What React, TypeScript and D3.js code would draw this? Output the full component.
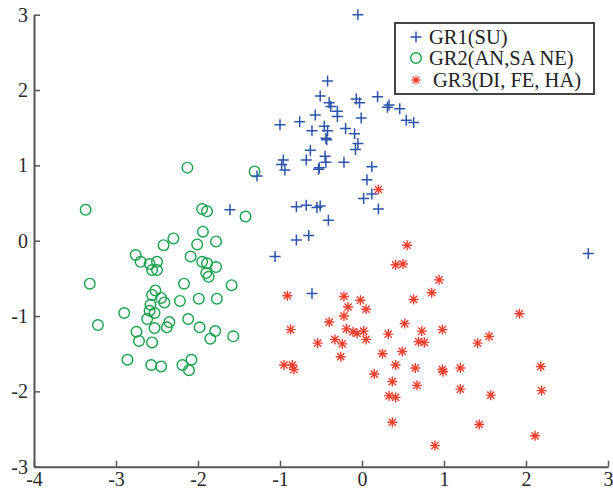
import React, { useEffect, useRef } from "react";
import * as d3 from "d3";

// GR1(SU)
const gr1: [number, number][] = [
  [-0.05, 3.0], [-0.42, 2.12], [-0.51, 1.92], [-0.4, 1.83], [-0.38, 1.78], [-0.3, 1.72],
  [-0.3, 1.65], [-0.07, 1.88], [-0.03, 1.83], [0.19, 1.91], [0.33, 1.8], [0.31, 1.77],
  [0.46, 1.75], [0.54, 1.6], [0.63, 1.57], [-0.01, 1.63], [-0.57, 1.67], [-0.76, 1.58],
  [-1.0, 1.54], [-0.61, 1.46], [-0.46, 1.52], [-0.42, 1.46], [-0.44, 1.36], [-0.43, 1.34],
  [-0.2, 1.49], [-0.09, 1.42], [-0.05, 1.29], [-0.08, 1.21], [-0.63, 1.2], [-0.68, 1.07],
  [-0.45, 1.12], [-0.44, 1.04], [-0.52, 0.97], [-0.53, 0.95], [-0.22, 1.04], [-0.96, 1.07],
  [-0.98, 1.01], [-0.94, 0.94], [0.12, 0.98], [0.06, 0.81], [0.02, 0.56], [0.12, 0.62],
  [0.2, 0.42], [-0.8, 0.45], [-0.68, 0.47], [-0.55, 0.44], [-0.51, 0.46], [-0.41, 0.27],
  [-0.8, 0.01], [-0.65, 0.07], [-1.28, 0.86], [-1.61, 0.41], [-1.06, -0.21], [-0.61, -0.7],
  [2.76, -0.17],
];

// GR2(AN,SA NE)
const gr2: [number, number][] = [
  [-2.13, 0.97], [-1.31, 0.92], [-3.37, 0.41], [-1.95, 0.42], [-1.89, 0.39], [-1.42, 0.32],
  [-1.94, 0.12], [-1.78, -0.01], [-2.3, 0.03], [-2.42, -0.06], [-2.01, -0.05], [-2.76, -0.19],
  [-2.7, -0.28], [-2.59, -0.31], [-2.5, -0.28], [-2.56, -0.39], [-2.5, -0.39], [-2.09, -0.21],
  [-1.95, -0.28], [-1.89, -0.3], [-1.78, -0.35], [-1.9, -0.43], [-1.87, -0.48], [-3.32, -0.57],
  [-2.17, -0.57], [-1.59, -0.59], [-2.52, -0.66], [-2.56, -0.72], [-2.45, -0.76], [-2.41, -0.82],
  [-2.22, -0.8], [-1.99, -0.77], [-1.77, -0.77], [-2.58, -0.85], [-2.59, -0.93], [-2.53, -0.96],
  [-2.9, -0.96], [-2.62, -1.04], [-3.22, -1.12], [-2.35, -1.08], [-2.38, -1.15], [-2.53, -1.16],
  [-2.12, -1.04], [-1.98, -1.15], [-1.79, -1.2], [-1.85, -1.3], [-1.57, -1.27], [-2.75, -1.21],
  [-2.72, -1.33], [-2.56, -1.35], [-2.86, -1.58], [-2.57, -1.65], [-2.45, -1.67], [-2.19, -1.65],
  [-2.08, -1.58], [-2.11, -1.72],
];

// GR3(DI, FE, HA)
const gr3: [number, number][] = [
  [0.2, 0.68], [0.55, -0.06], [0.41, -0.32], [0.5, -0.31], [0.94, -0.52], [0.85, -0.69],
  [0.63, -0.78], [-0.91, -0.73], [-0.22, -0.74], [-0.02, -0.79], [-0.17, -0.88], [0.05, -0.91],
  [-0.22, -1.0], [-0.4, -1.08], [-0.87, -1.18], [0.52, -1.1], [0.73, -1.2], [0.98, -1.18],
  [-0.19, -1.17], [-0.11, -1.21], [-0.06, -1.23], [0.02, -1.2], [0.05, -1.31], [-0.33, -1.31],
  [-0.24, -1.37], [-0.54, -1.36], [0.32, -1.24], [0.69, -1.34], [0.76, -1.35], [-0.26, -1.54],
  [0.25, -1.5], [0.49, -1.47], [-0.95, -1.65], [-0.85, -1.65], [-0.83, -1.71], [0.41, -1.65],
  [0.65, -1.69], [0.98, -1.71], [0.99, -1.74], [1.2, -1.69], [0.15, -1.77], [0.37, -1.87],
  [0.67, -1.92], [1.2, -1.97], [0.33, -2.06], [0.41, -2.08], [0.37, -2.41], [0.89, -2.72],
  [1.41, -1.36], [1.55, -1.27], [2.18, -1.67], [1.57, -2.05], [2.19, -1.99], [1.43, -2.44],
  [2.11, -2.59], [1.92, -0.97],
];

const xTicks = [-4, -3, -2, -1, 0, 1, 2, 3];
const yTicks = [-3, -2, -1, 0, 1, 2, 3];
const legendLabels = ["GR1(SU)", "GR2(AN,SA NE)", "GR3(DI, FE, HA)"];

const blue = "#2c54aa";
const green = "#17a04a";
const red = "#f0412f";

const width = 613;
const height = 491;

function plusPath(s: number) {
  return `M${-s},0H${s}M0,${-s}V${s}`;
}
function starPath(s: number) {
  const d = s * 0.72;
  return `M${-s},0H${s}M0,${-s}V${s}M${-d},${-d}L${d},${d}M${-d},${d}L${d},${-d}`;
}

export default function App() {
  const ref = useRef<SVGSVGElement>(null);

  useEffect(() => {
    const svg = d3.select(ref.current);
    svg.selectAll("*").remove();

    const x = d3.scaleLinear().domain([-4, 3]).range([34, 608]);
    const y = d3.scaleLinear().domain([-3, 3]).range([466.7, 14.7]);
    const font = "'Liberation Serif', 'Times New Roman', serif";

    // axes
    const xAxis = svg.append("g")
      .attr("transform", `translate(0,${y(-3)})`)
      .call(d3.axisBottom(x).tickValues(xTicks).tickSize(-6).tickPadding(5).tickSizeOuter(0)
        .tickFormat((d) => String(d)));
    const yAxis = svg.append("g")
      .attr("transform", `translate(${x(-4)},0)`)
      .call(d3.axisLeft(y).tickValues(yTicks).tickSize(-6).tickPadding(6).tickSizeOuter(0)
        .tickFormat((d) => String(d)));
    [xAxis, yAxis].forEach((g) => {
      g.select(".domain").attr("stroke", "#555").attr("stroke-width", 2);
      g.selectAll(".tick line").attr("stroke", "#555").attr("stroke-width", 1.5);
      g.selectAll(".tick text")
        .attr("fill", "#2a2a2a")
        .attr("font-family", font)
        .attr("font-size", 20);
    });
    xAxis.selectAll(".tick text").attr("dy", "0.7em");

    // points
    const g = svg.append("g");
    g.selectAll(".gr2")
      .data(gr2)
      .enter().append("circle")
      .attr("cx", (d) => x(d[0]))
      .attr("cy", (d) => y(d[1]))
      .attr("r", 5.3)
      .attr("fill", "none")
      .attr("stroke", green)
      .attr("stroke-width", 1.4);
    g.selectAll(".gr1")
      .data(gr1)
      .enter().append("path")
      .attr("transform", (d) => `translate(${x(d[0])},${y(d[1])})`)
      .attr("d", plusPath(5.5))
      .attr("fill", "none")
      .attr("stroke", blue)
      .attr("stroke-width", 1.5);
    g.selectAll(".gr3")
      .data(gr3)
      .enter().append("path")
      .attr("transform", (d) => `translate(${x(d[0])},${y(d[1])})`)
      .attr("d", starPath(5))
      .attr("fill", "none")
      .attr("stroke", red)
      .attr("stroke-width", 1.4);

    // legend
    const lg = svg.append("g");
    lg.append("rect")
      .attr("x", 395).attr("y", 23).attr("width", 199).attr("height", 71)
      .attr("fill", "#fff").attr("stroke", "#444").attr("stroke-width", 2);
    const rows = [37, 58, 80];
    lg.append("path").attr("transform", `translate(416,${rows[0]})`).attr("d", plusPath(5.5))
      .attr("stroke", blue).attr("stroke-width", 1.5).attr("fill", "none");
    lg.append("circle").attr("cx", 416).attr("cy", rows[1]).attr("r", 5.3)
      .attr("stroke", green).attr("stroke-width", 1.4).attr("fill", "none");
    lg.append("path").attr("transform", `translate(416,${rows[2]})`).attr("d", starPath(4.5))
      .attr("stroke", red).attr("stroke-width", 1.3).attr("fill", "none");
    legendLabels.forEach((t, i) => {
      lg.append("text")
        .attr("x", i === 2 ? 433 : 429)
        .attr("y", rows[i])
        .attr("dy", "0.35em")
        .attr("font-family", font)
        .attr("font-size", 20.5)
        .attr("fill", "#222")
        .text(t);
    });
  }, []);

  return (
    <svg
      ref={ref}
      width={width}
      height={height}
      style={{ position: "absolute", left: 0, top: 0, background: "#fff" }}
    />
  );
}
